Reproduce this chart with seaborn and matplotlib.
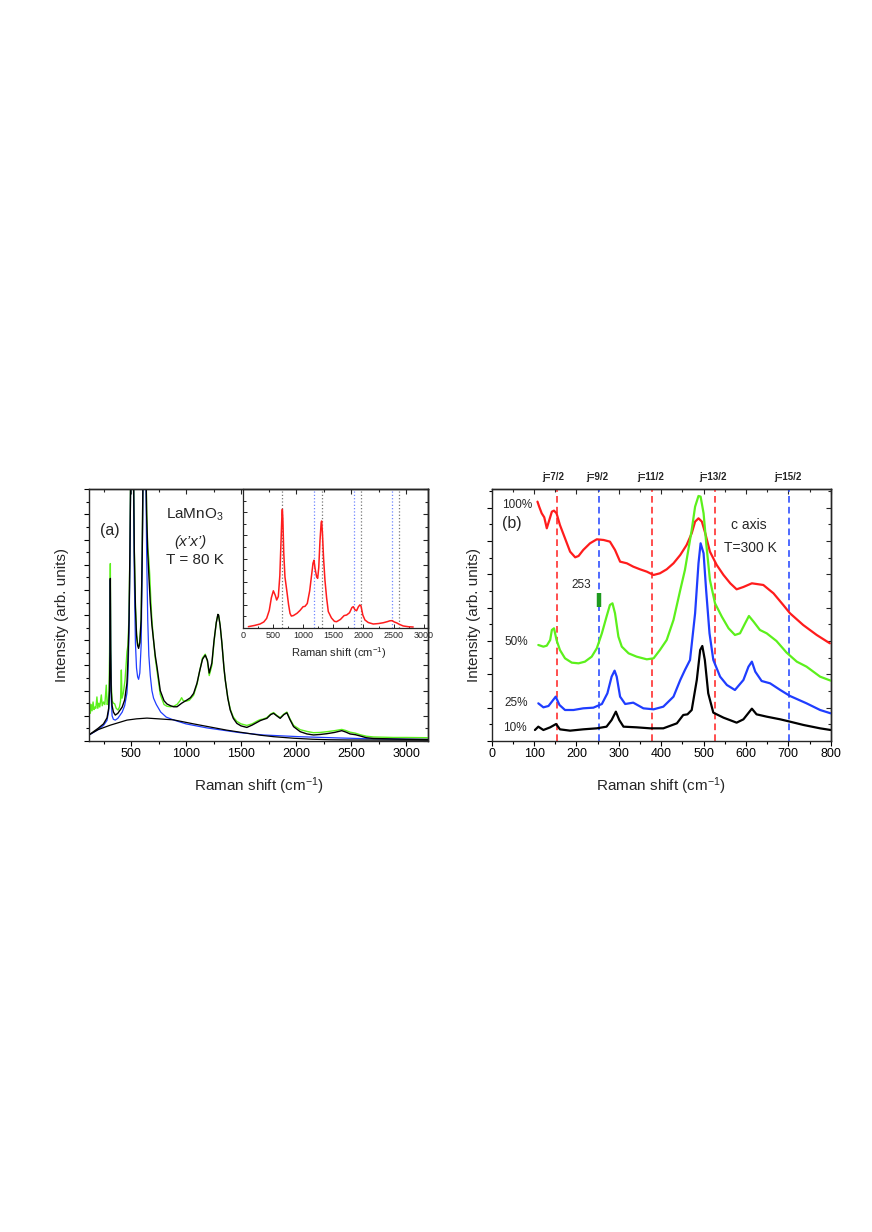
import numpy as np
import pandas as pd
import matplotlib
matplotlib.use('Agg')
import matplotlib.pyplot as plt
import matplotlib.transforms as mtransforms
from matplotlib.ticker import MultipleLocator, NullFormatter
import seaborn as sns

# ---------------- panel (a): LaMnO3, T = 80 K ----------------
# total fit (black)
fit_x = [124, 200, 250, 282, 297, 304, 309, 312, 315, 320,
         328, 340, 357, 380, 420, 442, 463, 472, 482, 490,
         500, 510, 520, 530, 540, 550, 560, 569, 580, 592,
         602, 612, 622, 632, 642, 652, 662, 675, 690, 705,
         720, 736, 766, 800, 827, 860, 887, 918, 960, 1009,
         1040, 1069, 1100, 1125, 1150, 1175, 1195, 1211, 1235, 1255,
         1275, 1290, 1296, 1310, 1326, 1345, 1357, 1380, 1402, 1430,
         1462, 1500, 1553, 1600, 1650, 1675, 1700, 1735, 1770, 1796,
         1825, 1856, 1890, 1917, 1945, 1978, 2038, 2100, 2159, 2220,
         2280, 2350, 2416, 2450, 2492, 2540, 2583, 2640, 2704, 2800,
         2886, 3000, 3200]
fit_y = [0.26, 0.50, 0.68, 0.92, 1.30, 2.00, 3.60, 6.46, 3.60, 2.00,
         1.40, 1.15, 1.03, 1.10, 1.35, 1.63, 2.30, 3.20, 4.80, 7.50,
         12.0, 14.0, 12.0, 7.50, 5.30, 4.20, 3.80, 3.68, 3.90, 4.80,
         7.50, 12.0, 14.0, 12.0, 9.00, 7.50, 6.60, 5.50, 4.60, 4.00,
         3.40, 2.95, 2.00, 1.60, 1.47, 1.40, 1.36, 1.36, 1.50, 1.63,
         1.72, 1.89, 2.30, 2.80, 3.25, 3.41, 3.20, 2.70, 3.10, 4.00,
         4.70, 5.03, 5.00, 4.60, 3.90, 2.90, 2.42, 1.70, 1.23, 0.90,
         0.70, 0.60, 0.54, 0.63, 0.75, 0.81, 0.85, 0.90, 1.05, 1.10,
         1.00, 0.90, 1.05, 1.12, 0.85, 0.57, 0.37, 0.28, 0.24, 0.26,
         0.29, 0.34, 0.41, 0.36, 0.28, 0.25, 0.20, 0.13, 0.10, 0.09,
         0.08, 0.07, 0.06]

# measured spectrum (green)
data_x = [124, 130, 138, 146, 155, 163, 172, 180, 190, 198,
          207, 216, 230, 238, 250, 262, 275, 283, 293, 300,
          305, 309, 312, 315, 320, 328, 340, 351, 365, 382,
          395, 405, 412, 418, 430, 445, 455, 463, 472, 482,
          490, 500, 510, 520, 530, 540, 550, 560, 569, 580,
          592, 602, 612, 622, 632, 642, 652, 662, 670, 680,
          690, 705, 720, 736, 766, 800, 827, 860, 887, 918,
          945, 960, 975, 1000, 1030, 1069, 1100, 1125, 1150, 1175,
          1195, 1211, 1235, 1255, 1275, 1290, 1296, 1310, 1326, 1345,
          1357, 1380, 1402, 1430, 1462, 1500, 1553, 1600, 1650, 1675,
          1700, 1735, 1770, 1796, 1825, 1856, 1890, 1917, 1945, 1978,
          2038, 2100, 2159, 2220, 2280, 2350, 2416, 2450, 2492, 2540,
          2583, 2640, 2704, 2800, 2886, 3000, 3200]
data_y = [1.50, 1.10, 1.45, 1.20, 1.55, 1.25, 1.35, 1.30, 1.75, 1.30,
          1.50, 1.35, 1.83, 1.40, 1.55, 1.45, 2.22, 1.45, 1.55, 2.00,
          3.50, 5.50, 7.05, 4.00, 2.30, 1.60, 1.50, 1.48, 1.30, 1.23,
          1.35, 1.60, 2.82, 1.70, 1.90, 2.40, 3.00, 3.54, 3.80, 5.00,
          7.60, 12.0, 14.0, 12.0, 7.60, 5.40, 4.30, 3.85, 3.75, 3.95,
          4.90, 7.60, 12.0, 14.0, 12.0, 9.20, 7.70, 7.20, 6.60, 5.60,
          4.80, 4.00, 3.30, 2.80, 1.85, 1.45, 1.38, 1.36, 1.38, 1.45,
          1.60, 1.72, 1.60, 1.58, 1.62, 1.82, 2.25, 2.80, 3.30, 3.45,
          3.15, 2.60, 3.00, 3.95, 4.70, 5.03, 5.00, 4.60, 3.90, 2.90,
          2.42, 1.72, 1.27, 0.95, 0.78, 0.68, 0.62, 0.68, 0.80, 0.85,
          0.87, 0.93, 1.07, 1.13, 1.02, 0.93, 1.07, 1.15, 0.88, 0.62,
          0.45, 0.38, 0.33, 0.34, 0.37, 0.41, 0.46, 0.42, 0.35, 0.31,
          0.25, 0.19, 0.16, 0.15, 0.14, 0.14, 0.13]

# phonon part of the fit (blue)
phon_x = [124, 200, 250, 282, 297, 304, 309, 312, 315, 320,
          328, 340, 357, 380, 420, 442, 463, 472, 482, 490,
          500, 510, 520, 530, 540, 550, 560, 569, 580, 592,
          602, 612, 622, 632, 642, 652, 662, 675, 690, 705,
          730, 770, 820, 890, 1000, 1190, 1492, 1700, 2038, 2400,
          2643, 3200]
phon_y = [0.25, 0.45, 0.62, 0.82, 1.20, 1.90, 3.50, 6.40, 3.50, 1.70,
          1.00, 0.86, 0.83, 0.90, 1.15, 1.40, 1.90, 2.60, 4.30, 7.00,
          12.0, 14.0, 12.0, 6.50, 3.90, 2.90, 2.55, 2.45, 2.70, 3.80,
          7.00, 12.0, 14.0, 12.0, 7.50, 4.80, 3.40, 2.60, 2.00, 1.70,
          1.45, 1.15, 0.95, 0.83, 0.68, 0.52, 0.33, 0.24, 0.17, 0.12,
          0.09, 0.06]

# broad background (black, lower)
bg_x = [124, 200, 312, 463, 550, 645, 750, 886, 1000, 1069,
        1190, 1372, 1492, 1675, 1800, 1978, 2150, 2300, 2500, 3200]
bg_y = [0.26, 0.45, 0.63, 0.83, 0.88, 0.91, 0.88, 0.84, 0.74, 0.68,
        0.58, 0.43, 0.35, 0.23, 0.17, 0.11, 0.07, 0.05, 0.04, 0.03]

# inset (red)
ins_x = [94, 200, 287, 350, 397, 440, 475, 508, 540, 563,
         590, 615, 635, 650, 657, 665, 680, 700, 729, 760,
         784, 806, 839, 900, 950, 1000, 1032, 1070, 1110, 1140,
         1165, 1181, 1200, 1225, 1242, 1260, 1280, 1300, 1308, 1320,
         1340, 1363, 1390, 1418, 1470, 1520, 1556, 1620, 1680, 1722,
         1770, 1810, 1832, 1860, 1887, 1915, 1940, 1959, 1990, 2025,
         2080, 2163, 2250, 2329, 2400, 2440, 2478, 2510, 2550, 2600,
         2660, 2750, 2825]
ins_y = [0.09, 0.20, 0.32, 0.50, 0.81, 1.50, 2.60, 3.20, 2.80, 2.40,
         2.70, 4.50, 7.50, 9.80, 10.27, 9.50, 6.50, 4.40, 3.27, 2.00,
         1.24, 1.01, 1.05, 1.25, 1.50, 1.82, 1.85, 2.10, 3.20, 4.50,
         5.60, 5.85, 5.10, 4.40, 4.28, 5.20, 7.50, 9.10, 9.25, 8.30,
         6.00, 4.10, 2.60, 1.40, 0.85, 0.55, 0.52, 0.72, 1.05, 1.10,
         1.30, 1.75, 1.82, 1.55, 1.47, 1.80, 1.97, 1.90, 1.10, 0.67,
         0.45, 0.32, 0.36, 0.43, 0.53, 0.60, 0.61, 0.50, 0.42, 0.28,
         0.15, 0.08, 0.06]
ins_gray_lines = [657, 1308, 1953, 2594]
ins_blue_lines = [1181, 1843, 2478]

# ---------------- panel (b): c axis, T = 300 K ----------------
red_x = [108, 112, 118, 124, 130, 136, 142, 147, 153, 161,
         173, 185, 197, 205, 216, 232, 248, 264, 279, 291,
         303, 319, 334, 350, 366, 382, 397, 413, 429, 445,
         460, 472, 480, 488, 496, 504, 515, 531, 547, 563,
         578, 594, 614, 641, 665, 688, 704, 735, 767, 798]
red_y = [7.18, 7.03, 6.83, 6.71, 6.38, 6.63, 6.88, 6.91, 6.83, 6.48,
         6.08, 5.68, 5.51, 5.55, 5.73, 5.93, 6.05, 6.03, 5.98, 5.73,
         5.38, 5.33, 5.23, 5.15, 5.08, 4.98, 5.03, 5.15, 5.33, 5.58,
         5.88, 6.23, 6.58, 6.68, 6.58, 6.23, 5.68, 5.28, 4.98, 4.73,
         4.55, 4.62, 4.73, 4.68, 4.43, 4.08, 3.83, 3.48, 3.18, 2.93]

green_x = [110, 122, 130, 138, 142, 147, 153, 161, 173, 189,
           205, 220, 236, 248, 260, 271, 279, 285, 291, 299,
           307, 323, 342, 366, 382, 397, 413, 429, 445, 456,
           464, 472, 480, 488, 493, 500, 507, 515, 527, 543,
           559, 574, 586, 598, 607, 618, 633, 649, 672, 696,
           720, 743, 775, 800]
green_y = [2.88, 2.83, 2.86, 3.03, 3.33, 3.38, 3.03, 2.73, 2.48, 2.35,
           2.33, 2.38, 2.53, 2.78, 3.23, 3.73, 4.08, 4.13, 3.83, 3.13,
           2.83, 2.63, 2.53, 2.45, 2.48, 2.73, 3.03, 3.63, 4.53, 5.13,
           5.73, 6.33, 7.03, 7.35, 7.33, 6.83, 5.83, 4.83, 4.13, 3.73,
           3.38, 3.18, 3.23, 3.53, 3.75, 3.58, 3.33, 3.23, 3.00, 2.65,
           2.38, 2.23, 1.93, 1.81]

blue_x = [110, 122, 134, 142, 151, 160, 173, 193, 216, 240,
          260, 273, 283, 290, 295, 303, 315, 334, 358, 382,
          405, 429, 445, 456, 468, 480, 488, 493, 500, 506,
          514, 523, 539, 555, 574, 594, 606, 614, 622, 637,
          657, 681, 704, 743, 775, 800]
blue_y = [1.13, 1.01, 1.05, 1.18, 1.33, 1.08, 0.93, 0.93, 0.98, 1.00,
          1.11, 1.43, 1.93, 2.11, 1.93, 1.33, 1.11, 1.15, 0.98, 0.95,
          1.03, 1.33, 1.83, 2.13, 2.43, 3.83, 5.33, 5.93, 5.63, 4.53,
          3.23, 2.43, 1.93, 1.68, 1.53, 1.83, 2.23, 2.38, 2.08, 1.80,
          1.73, 1.53, 1.35, 1.13, 0.93, 0.83]

black_x = [102, 110, 122, 138, 152, 161, 185, 216, 248, 271,
           283, 293, 301, 311, 342, 374, 405, 437, 452, 462,
           472, 484, 492, 497, 503, 511, 523, 547, 578, 594,
           614, 625, 649, 681, 704, 736, 775, 800]
black_y = [0.33, 0.43, 0.33, 0.41, 0.51, 0.35, 0.31, 0.35, 0.38, 0.43,
           0.63, 0.88, 0.63, 0.43, 0.41, 0.38, 0.38, 0.53, 0.78, 0.80,
           0.93, 1.83, 2.73, 2.85, 2.43, 1.43, 0.85, 0.70, 0.55, 0.65,
           0.97, 0.80, 0.73, 0.65, 0.58, 0.48, 0.38, 0.33]

j_labels = ['j=7/2', 'j=9/2', 'j=11/2', 'j=13/2', 'j=15/2']
j_label_x = [146, 249, 374, 521, 699]
red_lines = [153, 379, 528]
blue_lines = [253, 702]
mark_x, mark_lo, mark_hi = 253, 4.01, 4.43

GREEN = '#5cf01c'
BLUE = '#1f3dff'
RED = '#ff1c1c'

sns.set_style('ticks')
plt.rcParams['font.family'] = ['Liberation Sans', 'DejaVu Sans']
plt.rcParams['mathtext.default'] = 'regular'
plt.rcParams['axes.linewidth'] = 1.0


def curve(ax, x, y, color, lw):
    sns.lineplot(x=x, y=y, ax=ax, color=color, linewidth=lw,
                 estimator=None, sort=False, legend=False)


def frame(ax, xmaj, xmin, ymaj, ymin):
    for a, maj, mnr in ((ax.xaxis, xmaj, xmin), (ax.yaxis, ymaj, ymin)):
        a.set_major_locator(MultipleLocator(maj))
        a.set_minor_locator(MultipleLocator(mnr))
    ax.yaxis.set_major_formatter(NullFormatter())
    ax.tick_params(which='both', direction='out', top=False, right=False,
                   width=0.8, labelsize=9, pad=1.5, colors='black')
    ax.tick_params(which='major', length=3.5)
    ax.tick_params(which='minor', length=2)
    top = ax.secondary_xaxis('top')
    right = ax.secondary_yaxis('right')
    for sec, a, maj, mnr in ((top, top.xaxis, xmaj, xmin),
                             (right, right.yaxis, ymaj, ymin)):
        a.set_major_locator(MultipleLocator(maj))
        a.set_minor_locator(MultipleLocator(mnr))
        a.set_major_formatter(NullFormatter())
        sec.tick_params(which='both', direction='in', width=0.8)
        sec.tick_params(which='major', length=3.5)
        sec.tick_params(which='minor', length=2)


fig = plt.figure(figsize=(8.72, 12.32), dpi=100)
W, H = 872.0, 1232.0
ax_a = fig.add_axes([89 / W, 1 - 741 / H, 339 / W, 251.7 / H])
ax_b = fig.add_axes([491.7 / W, 1 - 741 / H, 339 / W, 251.7 / H])

# ----- panel (a)
curve(ax_a, data_x, data_y, GREEN, 1.0)
curve(ax_a, phon_x, phon_y, BLUE, 0.9)
curve(ax_a, bg_x, bg_y, 'black', 0.9)
curve(ax_a, fit_x, fit_y, 'black', 1.0)
ax_a.set_xlim(118, 3200)
ax_a.set_ylim(0, 10)
frame(ax_a, 500, 250, 1, 0.5)
ax_a.set_xlabel('Raman shift (cm$^{-1}$)', fontsize=11)
ax_a.set_ylabel('Intensity (arb. units)', fontsize=11)
ax_a.xaxis.set_label_coords(0.5, -0.135)
ax_a.yaxis.set_label_coords(-0.06, 0.5)
ax_a.text(0.062, 0.838, '(a)', transform=ax_a.transAxes, fontsize=11.5,
          ha='center', va='center')
ax_a.text(0.227, 0.898, 'LaMnO$_3$', transform=ax_a.transAxes, fontsize=11,
          ha='left', va='center')
ax_a.text(0.298, 0.792, '(x\u2019x\u2019)', transform=ax_a.transAxes,
          fontsize=11, ha='center', va='center', style='italic')
ax_a.text(0.227, 0.719, 'T = 80 K', transform=ax_a.transAxes, fontsize=11,
          ha='left', va='center')

# ----- inset
ax_in = fig.add_axes([242.7 / W, 1 - 627.7 / H, (428 - 242.7) / W,
                      (627.7 - 489.3) / H])
ax_in.set_facecolor('none')
for xv in ins_gray_lines:
    ax_in.axvline(xv, color='#777777', linestyle=':', linewidth=0.9)
for xv in ins_blue_lines:
    ax_in.axvline(xv, color='#6f86ff', linestyle=':', linewidth=0.9)
curve(ax_in, ins_x, ins_y, RED, 1.1)
ax_in.set_xlim(0, 3070)
ax_in.set_ylim(0, 12)
ax_in.xaxis.set_major_locator(MultipleLocator(500))
ax_in.xaxis.set_minor_locator(MultipleLocator(250))
ax_in.yaxis.set_major_locator(MultipleLocator(2))
ax_in.yaxis.set_minor_locator(MultipleLocator(1))
ax_in.yaxis.set_major_formatter(NullFormatter())
ax_in.tick_params(which='both', direction='in', top=False, right=False,
                  width=0.7, labelsize=6.5, pad=2.5)
ax_in.tick_params(which='major', length=3)
ax_in.tick_params(which='minor', length=1.8)
for s in ax_in.spines.values():
    s.set_linewidth(0.9)
ax_in.set_xlabel('Raman shift (cm$^{-1}$)', fontsize=8)
ax_in.xaxis.set_label_coords(0.52, -0.13)

# ----- panel (b)
for xv in red_lines:
    ax_b.axvline(xv, color='#ff3030', linestyle=(0, (4, 2.5)), linewidth=1.2)
for xv in blue_lines:
    ax_b.axvline(xv, color='#3050ff', linestyle=(0, (4, 2.5)), linewidth=1.2)
curve(ax_b, red_x, red_y, RED, 1.6)
curve(ax_b, green_x, green_y, GREEN, 1.6)
curve(ax_b, blue_x, blue_y, BLUE, 1.6)
curve(ax_b, black_x, black_y, 'black', 1.6)
ax_b.vlines(mark_x, mark_lo, mark_hi, color='#1e9a1e', linewidth=3.2)
ax_b.set_xlim(0, 800)
ax_b.set_ylim(0, 7.55)
frame(ax_b, 100, 50, 1, 0.5)
ax_b.set_xlabel('Raman shift (cm$^{-1}$)', fontsize=11)
ax_b.set_ylabel('Intensity (arb. units)', fontsize=11)
ax_b.xaxis.set_label_coords(0.5, -0.135)
ax_b.yaxis.set_label_coords(-0.033, 0.5)

blend = mtransforms.blended_transform_factory(ax_b.transData, ax_b.transAxes)
for lab, xv in zip(j_labels, j_label_x):
    ax_b.text(xv, 1.049, lab, transform=blend, fontsize=7, fontweight='bold',
              ha='center', va='center')
ax_b.text(mark_x - 41, 4.68, '253', fontsize=8.5, ha='center', va='center')
ax_b.text(0.0295, 0.938, '100%', transform=ax_b.transAxes, fontsize=8.5,
          ha='left', va='center')
ax_b.text(0.031, 0.865, '(b)', transform=ax_b.transAxes, fontsize=11.5,
          ha='left', va='center')
ax_b.text(0.039, 0.393, '50%', transform=ax_b.transAxes, fontsize=8.5,
          ha='left', va='center')
ax_b.text(0.037, 0.150, '25%', transform=ax_b.transAxes, fontsize=8.5,
          ha='left', va='center')
ax_b.text(0.034, 0.050, '10%', transform=ax_b.transAxes, fontsize=8.5,
          ha='left', va='center')
ax_b.text(0.759, 0.858, 'c axis', transform=ax_b.transAxes, fontsize=10,
          ha='center', va='center')
ax_b.text(0.762, 0.767, 'T=300 K', transform=ax_b.transAxes, fontsize=10,
          ha='center', va='center')

fig.savefig('out.png', dpi=100)
